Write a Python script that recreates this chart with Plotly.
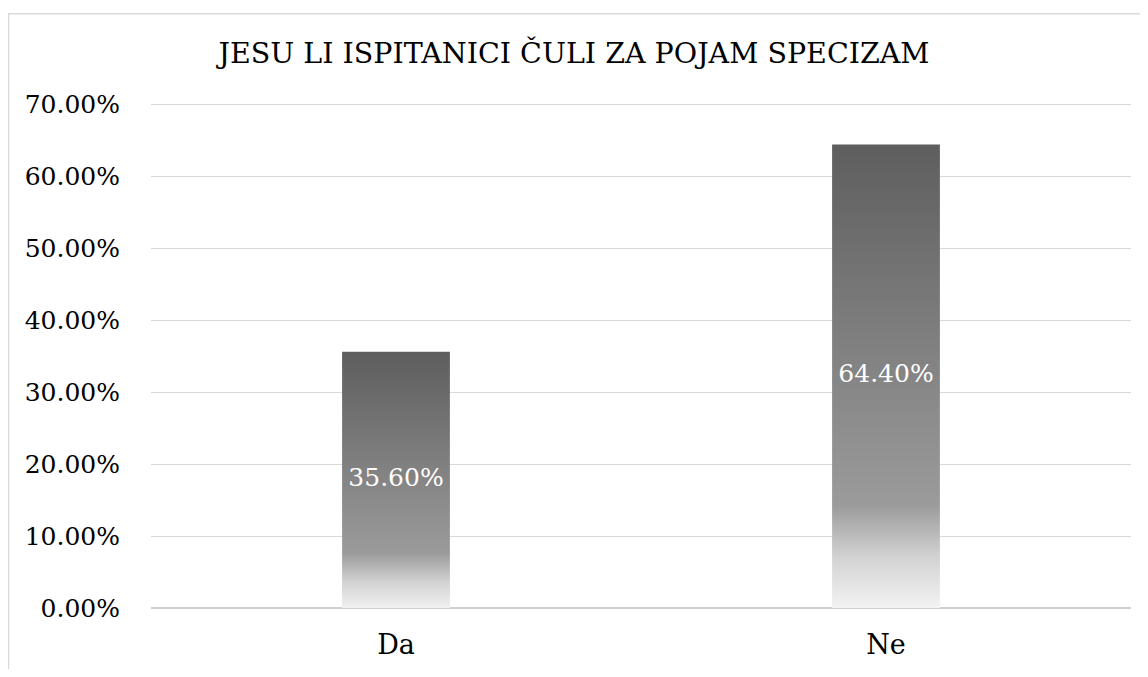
import plotly.graph_objects as go

categories = ["Da", "Ne"]
values = [0.356, 0.644]
title_text = "JESU LI ISPITANICI ČULI ZA POJAM SPECIZAM"
y_ticks = [0, 0.1, 0.2, 0.3, 0.4, 0.5, 0.6, 0.7]

FONT = "DejaVu Serif, Liberation Serif, Times New Roman, serif"
W, H = 1132, 661
ML, MR, MT, MB = 143, 9, 94, 56
BAR_W = 0.22
gradient = [[0.0, "#f6f6f6"], [0.12, "#d2d2d2"], [0.23, "#9b9b9b"], [1.0, "#5e5e5e"]]

fig = go.Figure()
for i, (cat, v) in enumerate(zip(categories, values)):
    x0, x1 = i - BAR_W / 2, i + BAR_W / 2
    fig.add_trace(go.Scatter(
        x=[x0, x1, x1, x0, x0], y=[0, 0, v, v, 0],
        mode="lines", fill="toself", line=dict(width=0),
        fillgradient=dict(type="vertical", colorscale=gradient, start=0, stop=v),
        hoverinfo="skip", showlegend=False, name=cat,
    ))

fig.add_trace(go.Scatter(
    x=list(range(len(categories))), y=[v / 2 for v in values],
    mode="text", text=[f"{v:.2%}" for v in values],
    textfont=dict(family=FONT, size=25, color="white"),
    textposition="middle center", showlegend=False, hoverinfo="skip",
))

pw = W - ML - MR
ph = H - MT - MB
fig.add_shape(type="rect", xref="paper", yref="paper",
              x0=(0.5 - ML) / pw, x1=(W + 20 - ML) / pw,
              y0=-(H + 20 - MT - ph) / ph, y1=(H - MB - 5) / ph,
              line=dict(color="#d9d9d9", width=1.5), fillcolor="rgba(0,0,0,0)", layer="below")

fig.update_layout(
    width=W, height=H,
    margin=dict(l=ML, r=MR, t=MT, b=MB, pad=0),
    paper_bgcolor="white", plot_bgcolor="white",
    font=dict(family=FONT, size=25, color="#000000"),
    title=dict(text=title_text, x=0.5, xref="container", xanchor="center",
               y=1 - 45 / H, yref="container", yanchor="middle",
               font=dict(family=FONT, size=28.5, color="#000000")),
    xaxis=dict(range=[-0.5, 1.5], tickvals=list(range(len(categories))), ticktext=categories,
               showgrid=False, zeroline=False, showline=False, ticks="",
               ticklabelstandoff=18, tickfont=dict(family=FONT, size=27, color="#000000"),
               fixedrange=True),
    yaxis=dict(range=[0, 0.703], tickvals=y_ticks, tickformat=".2%",
               showgrid=True, gridcolor="#d9d9d9", gridwidth=1,
               zeroline=True, zerolinecolor="#d0d0d0", zerolinewidth=1.5,
               showline=False, ticks="", ticklabelstandoff=30,
               tickfont=dict(family=FONT, size=25, color="#000000"), fixedrange=True),
)

fig.write_html("out.html")
